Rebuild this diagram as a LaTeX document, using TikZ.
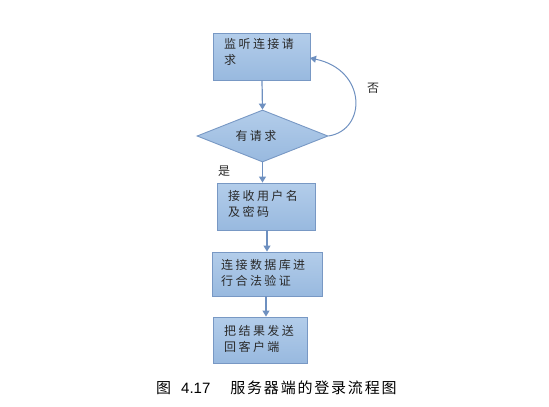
\documentclass[tikz,border=0pt]{standalone}
\usepackage{fontspec}
\setmainfont{Noto Sans CJK SC}
\newfontfamily\capfont{Liberation Sans}
\usetikzlibrary{shapes.geometric,arrows.meta}
\definecolor{boxtop}{HTML}{B3CDEA}
\definecolor{boxbot}{HTML}{98B9DF}
\definecolor{boxline}{HTML}{7898C4}
\definecolor{arrowc}{HTML}{6E90C0}
\definecolor{txt}{HTML}{2A2A2A}
\begin{document}
\begin{tikzpicture}[x=1pt,y=-1pt,
  boxstyle/.style={draw=boxline,line width=0.9pt,top color=boxtop,bottom color=boxbot,
    rectangle,inner sep=0pt},
  lbl/.style={anchor=north west,align=left,inner sep=0pt,text=txt,
    font=\fontsize{12}{16}\selectfont\addfontfeature{LetterSpace=20}},
  arr/.style={draw=arrowc,line width=1.2pt,-{Triangle[length=6pt,width=7pt]}}]
\useasboundingbox (0,0) rectangle (549,407);
% boxes
\node[boxstyle,minimum width=97pt,minimum height=47pt] (b1) at (261.5,56.5) {};
\node[diamond,aspect=2.5,draw=boxline,line width=0.9pt,top color=boxtop,bottom color=boxbot,
  minimum width=131pt,minimum height=52pt,inner sep=0pt] (d) at (262.5,136) {};
\node[boxstyle,minimum width=98pt,minimum height=47pt] (b2) at (266,206.5) {};
\node[boxstyle,minimum width=110pt,minimum height=44pt] (b3) at (267,274) {};
\node[boxstyle,minimum width=94pt,minimum height=46pt] (b4) at (260,340) {};
% texts
\node[lbl] (t1) at (224,38) {监听连接请\\求};
\node[text=txt,font=\fontsize{12}{16}\selectfont\addfontfeature{LetterSpace=20}] (t2) at (256,136) {有请求};
\node[lbl] (t3) at (228,190) {接收用户名\\及密码};
\node[lbl] (t4) at (221,259) {连接数据库进\\行合法验证};
\node[lbl] (t5) at (224,325) {把结果发送\\回客户端};
% arrows
\draw[arr] (b1.south -| 262,0) -- (d.north);
\draw[arr] (d.south) -- (b2.north -| d.south);
\draw[arr] (b2.south -| 267,0) -- (b3.north -| 267,0);
\draw[arr] (b3.south -| 266,0) -- (b4.north -| 266,0);
\coordinate (fb) at (310,58);
\draw[arrowc,line width=1pt,-{Triangle[length=6pt,width=7pt]}]
  (d.east) .. controls (367,130) and (367,70) .. (fb);
% labels
\node[text=txt,font=\fontsize{12}{14}\selectfont] (no) at (373,88) {否};
\node[text=txt,font=\fontsize{12}{14}\selectfont] (yes) at (224,171) {是};
\node[text=black,anchor=west,inner sep=0pt,font=\fontsize{15}{16}\selectfont] (cap) at (156,388)
  {图\hspace{10pt}{\capfont 4.17}\hspace{20pt}\addfontfeature{LetterSpace=12}服务器端的登录流程图};
\end{tikzpicture}
\end{document}
